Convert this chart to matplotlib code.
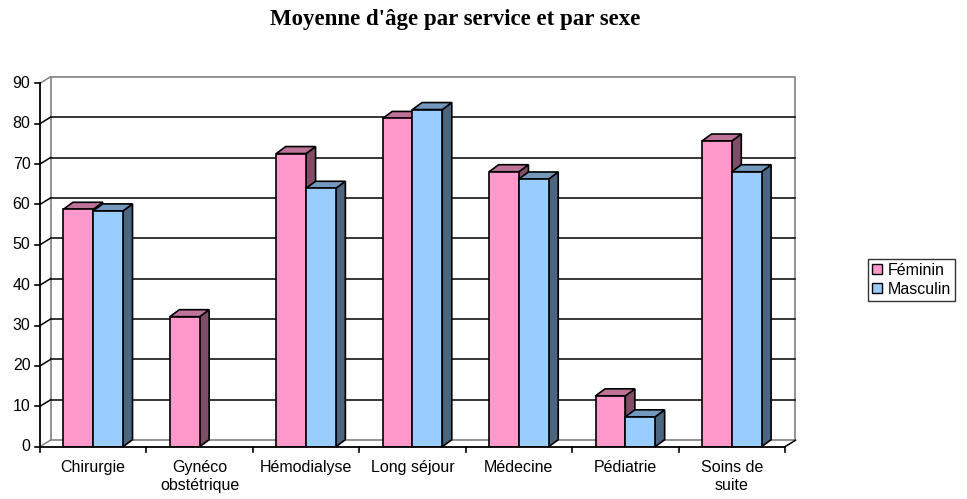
import numpy as np
import matplotlib
matplotlib.use("Agg")
import matplotlib.pyplot as plt
from matplotlib.patches import Polygon, Rectangle
from matplotlib.transforms import offset_copy

# data
services = ["Chirurgie", "Gynéco\nobstétrique", "Hémodialyse", "Long séjour",
            "Médecine", "Pédiatrie", "Soins de\nsuite"]
feminin = [58.8, 32.2, 72.6, 81.3, 68.1, 12.6, 75.7]
masculin = [58.4, np.nan, 64.0, 83.5, 66.3, 7.4, 68.1]
yticks = list(range(0, 100, 10))

PINK = ("#FF99CC", "#BF7399", "#804C66")   # front, top, side
BLUE = ("#99CCFF", "#7399BF", "#4C6680")
GRAY = "#808080"

W, H = 967, 499
fig = plt.figure(figsize=(W / 100, H / 100), dpi=100)
ax_l, ax_r, ax_t, ax_b = 40, 785, 83.3, 446.7
ax = fig.add_axes([ax_l / W, 1 - ax_b / H, (ax_r - ax_l) / W, (ax_b - ax_t) / H])
n = len(services)
xmin, xmax = -0.5, n - 0.5
ax.set_xlim(xmin, xmax)
ax.set_ylim(0, 90)
ax.axis("off")

# pixel -> data conversions for the depth effect
ppx = (ax_r - ax_l) / (xmax - xmin)
ppy = (ax_b - ax_t) / 90.0
wall_dx, wall_dy = 10.5, 6.5
bar_dx, bar_dy = 9.5 / ppx, 7.0 / ppy
back = offset_copy(ax.transData, fig=fig, x=wall_dx, y=wall_dy, units="dots")

# back wall and gridlines
ax.add_patch(Rectangle((xmin, 0), xmax - xmin, 90, transform=back, fill=False,
                       edgecolor=GRAY, lw=1.2, zorder=1, clip_on=False))
for v in yticks[1:-1]:
    ax.plot([xmin, xmax], [v, v], color="black", lw=1.1, transform=back, zorder=1,
            clip_on=False)
# left wall / floor diagonals
wdx, wdy = wall_dx / ppx, wall_dy / ppy
for v in yticks:
    c = GRAY if v in (0, 90) else "black"
    ax.plot([xmin, xmin + wdx], [v, v + wdy], color=c, lw=1.1, clip_on=False, zorder=1)
ax.plot([xmax, xmax + wdx], [0, wdy], color="black", lw=1.1, clip_on=False, zorder=1)
# front axes
ax.plot([xmin, xmin], [0, 90], color="black", lw=1.3, clip_on=False, zorder=2)
ax.plot([xmin, xmax], [0, 0], color="black", lw=1.3, clip_on=False, zorder=6)
tk = 5 / ppx
for v in yticks:
    ax.plot([xmin - tk, xmin], [v, v], color="black", lw=1.2, clip_on=False)
    ax.text(xmin - 0.09, v, str(v), ha="right", va="center", fontsize=11.5,
            family="Liberation Sans")
for i in range(n + 1):
    ax.plot([xmin + i, xmin + i], [0, -5 / ppy], color="black", lw=1.2, clip_on=False)
for i, s in enumerate(services):
    ax.text(i, -3.2, s, ha="center", va="top", fontsize=11.5, family="Liberation Sans",
            linespacing=1.3)


def bar3d(x0, w, v, cols, z):
    if np.isnan(v):
        return
    front = Rectangle((x0, 0), w, v, facecolor=cols[0], edgecolor="black", lw=1.2, zorder=z)
    top = Polygon([(x0, v), (x0 + w, v), (x0 + w + bar_dx, v + bar_dy), (x0 + bar_dx, v + bar_dy)],
                  facecolor=cols[1], edgecolor="black", lw=1.2, zorder=z, clip_on=False)
    side = Polygon([(x0 + w, 0), (x0 + w, v), (x0 + w + bar_dx, v + bar_dy), (x0 + w + bar_dx, bar_dy)],
                   facecolor=cols[2], edgecolor="black", lw=1.2, zorder=z, clip_on=False)
    for p in (side, top, front):
        ax.add_patch(p)


bw = 0.28
for i in range(n):
    bar3d(i - bw, bw, feminin[i], PINK, 3)
    bar3d(i, bw, masculin[i], BLUE, 4)

fig.text(455 / W, 1 - 19 / H, "Moyenne d'âge par service et par sexe", ha="center",
         va="center", fontsize=16.5, fontweight="bold", family="Liberation Serif")

# legend
hf = Rectangle((0, 0), 1, 1, facecolor=PINK[0], edgecolor="black", lw=1)
hm = Rectangle((0, 0), 1, 1, facecolor=BLUE[0], edgecolor="black", lw=1)
leg = fig.legend([hf, hm], ["Féminin", "Masculin"], loc="center left",
                 bbox_to_anchor=(868 / W, 1 - 280 / H), frameon=True, fancybox=False,
                 edgecolor="black", prop={"family": "Liberation Sans", "size": 11.5},
                 handlelength=0.6, handleheight=0.6, handletextpad=0.4,
                 borderpad=0.25, labelspacing=0.25, borderaxespad=0)
leg.get_frame().set_linewidth(1)

fig.savefig("out.png", dpi=100)
